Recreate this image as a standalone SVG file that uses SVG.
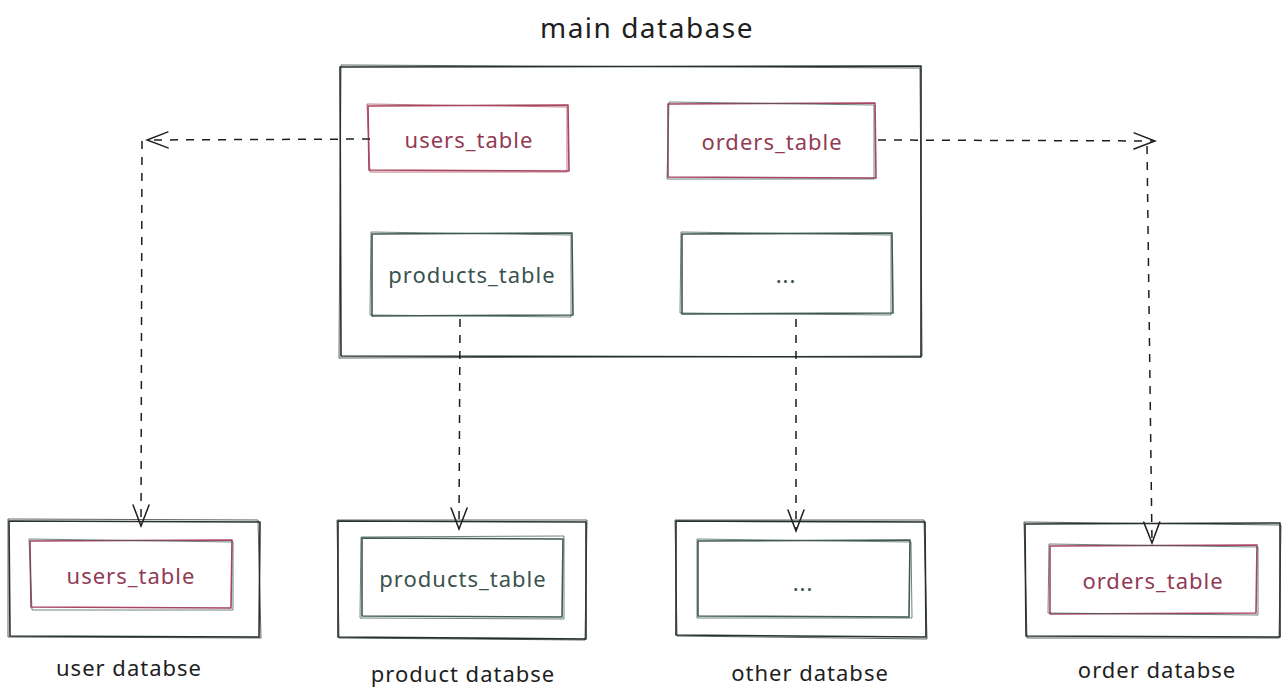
<svg xmlns="http://www.w3.org/2000/svg" width="1286" height="694" viewBox="0 0 1286 694">
<style>
.s1{fill:none;stroke-width:1.6;stroke-linejoin:round}
.s2{fill:none;stroke-width:1;opacity:.75;stroke-linejoin:round}
.dark{stroke:#26302e}
.slate{stroke:#3f5955}
.red{stroke:#a8455f}
.lbl{font-family:"Noto Sans","DejaVu Sans",sans-serif;font-size:22px;letter-spacing:1px;text-anchor:middle;dominant-baseline:central}
.ttl{font-size:28px;letter-spacing:1.5px}
.tred{fill:#923a54}
.tslate{fill:#3a524e}
.tdark{fill:#1e1e1e}
.conn{fill:none;stroke:#1e1e1e;stroke-width:1.5;stroke-dasharray:8 8}
.head{fill:none;stroke:#1e1e1e;stroke-width:1.5;stroke-linecap:round}
</style>
<defs>
<marker id="arr" viewBox="0 0 24 20" refX="22" refY="10" markerWidth="24" markerHeight="20" markerUnits="userSpaceOnUse" orient="auto">
<path class="head" d="M1,2 L22,10 L1,18"/>
</marker>
</defs>
<rect width="1286" height="694" fill="#ffffff"/>

<text class="lbl ttl tdark" x="647" y="27">main database</text>

<g id="main-database">
<path class="s1 dark" d="M340,67 L921,66 L921,357 L341,356 Z"/>
<path class="s2 dark" d="M341,65 L920,68 L922,356 L339,358 Z"/>
</g>

<g id="users-table">
<path class="s1 red" d="M368,106 L568,105 L569,171 L369,170 Z"/>
<path class="s2 red" d="M367,104 L567,107 L567,172 L370,172 Z"/>
<text class="lbl tred" x="469" y="139">users_table</text>
</g>

<g id="orders-table">
<path class="s1 red" d="M668,104 L875,103 L876,178 L668,177 Z"/>
<path class="s2 slate" d="M669,102 L874,105 L874,179 L667,179 Z"/>
<text class="lbl tred" x="772" y="141">orders_table</text>
</g>

<g id="products-table">
<path class="s1 slate" d="M372,234 L572,233 L573,315 L372,316 Z"/>
<path class="s2 slate" d="M371,232 L571,235 L571,317 L370,315 Z"/>
<text class="lbl tslate" x="472" y="274">products_table</text>
</g>

<g id="other-table">
<path class="s1 slate" d="M682,234 L892,233 L893,313 L682,314 Z"/>
<path class="s2 slate" d="M681,232 L891,235 L891,315 L680,313 Z"/>
<text class="lbl tslate" x="786" y="274">...</text>
</g>

<g id="user-database">
<path class="s1 dark" d="M9,521 L260,522 L259,637 L10,636 Z"/>
<path class="s2 dark" d="M8,519 L258,520 L261,638 L8,637 Z"/>
<path class="s1 red" d="M30,541 L232,540 L231,608 L31,607 Z"/>
<path class="s2 slate" d="M29,539 L233,542 L233,610 L32,610 Z"/>
<text class="lbl tred" x="131" y="575">users_table</text>
<text class="lbl tdark" x="129" y="667">user databse</text>
</g>

<g id="product-database">
<path class="s1 dark" d="M338,521 L586,522 L586,639 L338,637 Z"/>
<path class="s2 dark" d="M337,520 L587,520 L585,640 L339,638 Z"/>
<path class="s1 slate" d="M362,538 L563,539 L562,617 L362,616 Z"/>
<path class="s2 slate" d="M361,537 L564,536 L564,619 L360,618 Z"/>
<text class="lbl tslate" x="463" y="578">products_table</text>
<text class="lbl tdark" x="463" y="673">product databse</text>
</g>

<g id="other-database">
<path class="s1 dark" d="M676,521 L925,522 L926,637 L676,635 Z"/>
<path class="s2 dark" d="M675,520 L924,520 L927,639 L677,636 Z"/>
<path class="s1 slate" d="M698,541 L910,540 L909,617 L698,616 Z"/>
<path class="s2 slate" d="M697,539 L911,542 L912,618 L697,618 Z"/>
<text class="lbl tslate" x="803" y="582">...</text>
<text class="lbl tdark" x="810" y="672">other databse</text>
</g>

<g id="order-database">
<path class="s1 dark" d="M1025,524 L1280,523 L1280,637 L1026,636 Z"/>
<path class="s2 dark" d="M1024,522 L1281,525 L1279,638 L1027,638 Z"/>
<path class="s1 red" d="M1050,546 L1257,545 L1256,613 L1050,614 Z"/>
<path class="s2 slate" d="M1049,544 L1258,547 L1258,615 L1048,613 Z"/>
<text class="lbl tred" x="1153" y="580">orders_table</text>
<text class="lbl tdark" x="1157" y="669">order databse</text>
</g>

<g id="connectors">
<path class="conn" d="M370,139 L147,140" marker-end="url(#arr)"/>
<path class="conn" d="M142,141 L141,526" marker-end="url(#arr)"/>
<path class="conn" d="M878,140 L1155,141" marker-end="url(#arr)"/>
<path class="conn" d="M1147,146 L1152,543" marker-end="url(#arr)"/>
<path class="conn" d="M460,319 L459,529" marker-end="url(#arr)"/>
<path class="conn" d="M796,319 L796,531" marker-end="url(#arr)"/>
</g>
</svg>
